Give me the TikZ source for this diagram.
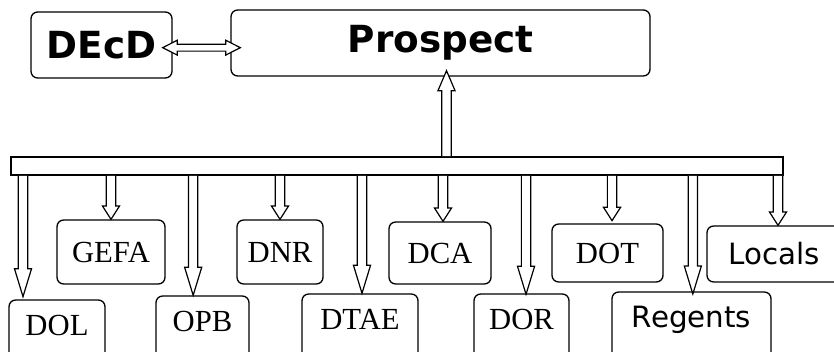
\documentclass[tikz,border=0pt]{standalone}
\usepackage{fontspec}
\setmainfont{Liberation Serif}
\newfontfamily\verd{DejaVu Sans}
\usetikzlibrary{calc,positioning}

\begin{document}
\begin{tikzpicture}[x=0.75pt, y=-0.75pt,
  box/.style={draw, rounded corners=5pt, line width=1pt, inner sep=0pt, fill=white},
  big/.style={box, font=\verd\bfseries\fontsize{28}{30}\selectfont},
  top/.style={box, font=\fontsize{23}{25}\selectfont},
  low/.style={box, minimum height=60pt, text height=15pt, text depth=22pt, font=\fontsize{23}{25}\selectfont},
  % vertical block arrow, #1 = head length
  hollow/.style={draw, fill=white, line width=0.9pt, line join=miter,
    to path={let \p1=(\tikztostart), \p2=(\tikztotarget), \n1={sign(\y2-\y1)} in
      (\x1-3.5pt,\y1) -- (\x1-3.5pt,\y2-\n1*#1) -- (\x1-6.4pt,\y2-\n1*#1) -- (\x1,\y2)
      -- (\x1+6.4pt,\y2-\n1*#1) -- (\x1+3.5pt,\y2-\n1*#1) -- (\x1+3.5pt,\y1) \tikztonodes}},
  % horizontal block arrow with two heads
  twin/.style={draw, fill=white, line width=0.9pt, line join=miter,
    to path={let \p1=(\tikztostart), \p2=(\tikztotarget) in
      (\x1,\y1) -- (\x1+11pt,\y1+5.6pt) -- (\x1+11pt,\y1+2.6pt) -- (\x2-11pt,\y1+2.6pt)
      -- (\x2-11pt,\y1+5.6pt) -- (\x2,\y1) -- (\x2-11pt,\y1-5.6pt) -- (\x2-11pt,\y1-2.6pt)
      -- (\x1+11pt,\y1-2.6pt) -- (\x1+11pt,\y1-5.6pt) -- cycle \tikztonodes}}]
\useasboundingbox (0,0) rectangle (834,352);

\node[big, minimum width=105.75pt, minimum height=49.5pt] (decd) at (101.5,45) {DEcD};
\node[big, minimum width=314.25pt, minimum height=49.5pt] (prospect) at (440.5,43) {Prospect};
\node[draw, line width=1.4pt, minimum width=579pt, minimum height=13.5pt, inner sep=0pt] (bar) at (397,166) {};

\node[top, minimum width=81pt, minimum height=48pt] (gefa) at (111,252) {GEFA};
\node[top, minimum width=64.5pt, minimum height=48pt] (dnr) at (280,252) {DNR};
\node[top, minimum width=76.5pt, minimum height=46.5pt] (dca) at (440,253) {DCA};
\node[top, minimum width=83.25pt, minimum height=43.5pt] (dot) at (607.5,253) {DOT};
\node[top, minimum width=100.5pt, minimum height=42pt, font=\verd\fontsize{22}{24}\selectfont] (locals) at (774,254) {Locals};

\node[low, minimum width=72pt] (dol) at (57,340) {DOL};
\node[low, minimum width=69.75pt] (opb) at (202.5,336) {OPB};
\node[low, minimum width=87pt] (dtae) at (360,334) {DTAE};
\node[low, minimum width=71.25pt] (dor) at (521.5,334) {DOR};
\node[low, minimum width=119.25pt, font=\verd\fontsize{22}{24}\selectfont] (regents) at (691.5,332) {Regents};

\draw[twin] ([xshift=-7.5pt,yshift=-2pt]decd.east) to ([xshift=7.5pt,yshift=-2pt]decd.east -| prospect.west);
\draw[hollow=15pt] ([xshift=4.5pt]prospect.south |- bar.north) to ([xshift=4.5pt,yshift=4.5pt]prospect.south);

\draw[hollow=21pt] ([xshift=-25.5pt]dol.north |- bar.south) to ([xshift=-25.5pt,yshift=2pt]dol.north);
\draw[hollow=10pt] (gefa.north |- bar.south) to (gefa.north);
\draw[hollow=21pt] ([xshift=-7pt]opb.north |- bar.south) to ([xshift=-7pt]opb.north);
\draw[hollow=10pt] (dnr.north |- bar.south) to (dnr.north);
\draw[hollow=21pt] ([xshift=1.5pt]dtae.north |- bar.south) to ([xshift=1.5pt]dtae.north);
\draw[hollow=10pt] ([xshift=2.25pt]dca.north |- bar.south) to ([xshift=2.25pt]dca.north);
\draw[hollow=21pt] ([xshift=3.4pt]dor.north |- bar.south) to ([xshift=3.4pt,yshift=-0.75pt]dor.north);
\draw[hollow=10pt] ([xshift=3.4pt]dot.north |- bar.south) to ([xshift=3.4pt,yshift=2pt]dot.north);
\draw[hollow=21pt] ([xshift=1pt]regents.north |- bar.south) to ([xshift=1pt,yshift=-2pt]regents.north);
\draw[hollow=10pt] ([xshift=3pt]locals.north |- bar.south) to ([xshift=3pt]locals.north);
\end{tikzpicture}
\end{document}
